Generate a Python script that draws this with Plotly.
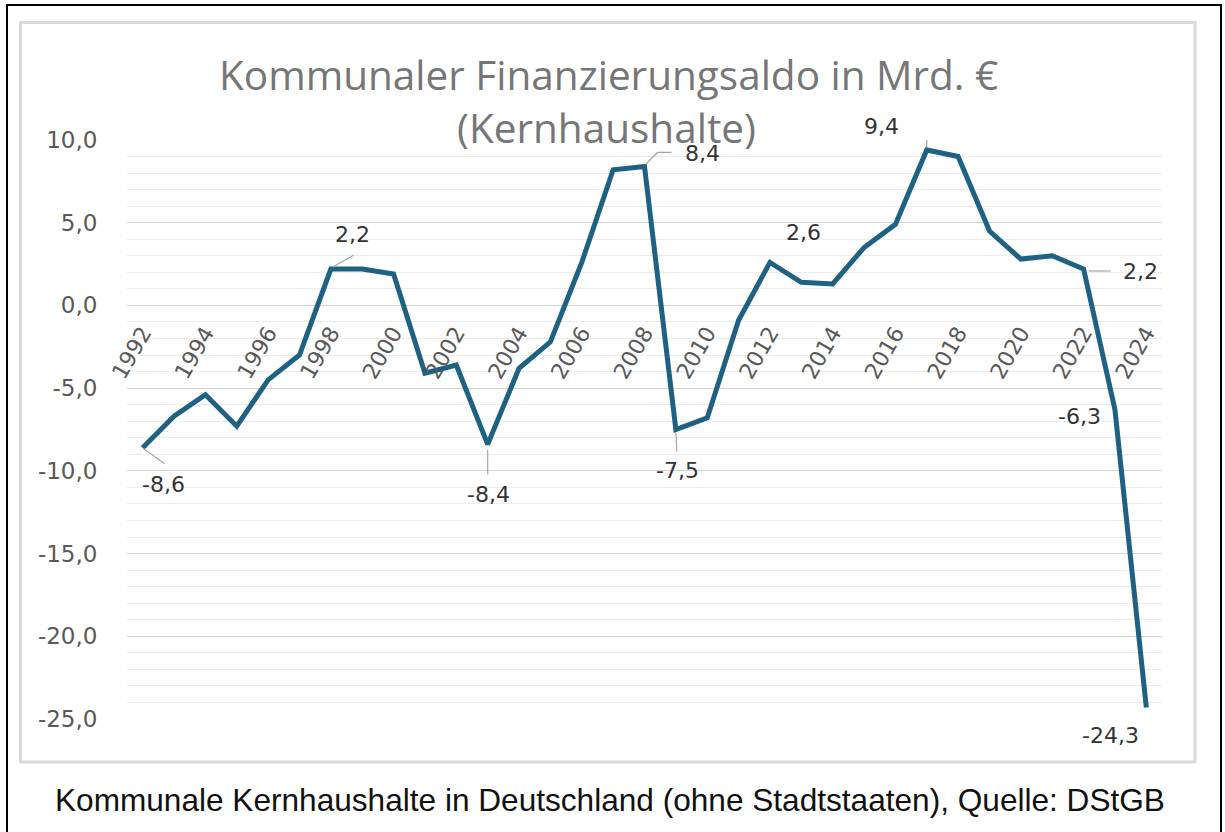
import plotly.graph_objects as go

# ---- data ----
years = list(range(1992, 2025))
saldo = [-8.6, -6.7, -5.4, -7.3, -4.5, -3.0, 2.2, 2.2, 1.9, -4.1, -3.6, -8.4,
         -3.8, -2.2, 2.6, 8.2, 8.4, -7.5, -6.8, -0.9, 2.6, 1.4, 1.3, 3.5,
         4.9, 9.4, 9.0, 4.5, 2.8, 3.0, 2.2, -6.3, -24.3]
y_tickvals = [10, 5, 0, -5, -10, -15, -20, -25]
y_ticktext = ["10,0", "5,0", "0,0", "-5,0", "-10,0", "-15,0", "-20,0", "-25,0"]
x_tickvals = list(range(1992, 2025, 2))
x_ticktext = [str(v) for v in x_tickvals]
labelled_years = [1992, 1998, 2003, 2008, 2009, 2012, 2017, 2022, 2023, 2024]
title_lines = ["Kommunaler Finanzierungsaldo in Mrd. €", "(Kernhaushalte)"]
caption = "Kommunale Kernhaushalte in Deutschland (ohne Stadtstaaten), Quelle: DStGB"

# label placement (pixel offsets right/down) and leader paths (pixels, y up)
label_offsets = {1992: (21, 37), 1998: (22, -35), 2003: (1, 50), 2008: (58, -13),
                 2009: (2, 41), 2012: (34, -30), 2017: (-45, -23), 2022: (57, 2),
                 2023: (-35, 7), 2024: (-36, 28)}
leaders = {1992: "M 1 -1 L 22 -16", 1998: "M 2 2 L 23 14", 2003: "M 0 -5 L 0 -30",
           2008: "M 1 2 L 13 14 L 27 14", 2009: "M 0 -3 L 1 -22",
           2017: "M 0 3 L 0 24 L -16 24", 2022: "M 5 -2 L 27 -2"}

fmt = lambda v: f"{v:.1f}".replace(".", ",")

L, R, T, B = 127, 1162, 140, 719
W, H = 1225, 832

def px(x):
    return (x - L) / (R - L)

def py(y):
    return (B - y) / (B - T)

fig = go.Figure()
fig.add_trace(go.Scatter(x=years, y=saldo, mode="lines",
                         line=dict(color="#1e6183", width=5), hoverinfo="skip"))

annotations = []
for yr in labelled_years:
    v = saldo[years.index(yr)]
    dx, dy = label_offsets[yr]
    annotations.append(dict(x=yr, y=v, xref="x", yref="y", text=fmt(v),
                            showarrow=False, xshift=dx, yshift=-dy,
                            xanchor="center", yanchor="middle", borderpad=0,
                            font=dict(family="DejaVu Sans", size=22, color="#333333")))

shapes = []
for yr, path in leaders.items():
    v = saldo[years.index(yr)]
    shapes.append(dict(type="path", xref="x", yref="y", xsizemode="pixel",
                       ysizemode="pixel", xanchor=yr, yanchor=v, path=path,
                       line=dict(color="#a6a6a6", width=1.2), layer="above"))

# title lines
annotations.append(dict(x=px(608), y=py(75), xref="paper", yref="paper",
                        text=title_lines[0], showarrow=False,
                        xanchor="center", yanchor="middle", borderpad=0,
                        font=dict(family="Open Sans", size=40.5, color="#767676")))
annotations.append(dict(x=px(606), y=py(127), xref="paper", yref="paper",
                        text=title_lines[1], showarrow=False,
                        xanchor="center", yanchor="middle", borderpad=0,
                        font=dict(family="Open Sans", size=40.5, color="#767676")))
# caption
annotations.append(dict(x=px(610), y=py(800), xref="paper", yref="paper",
                        text=caption, showarrow=False,
                        xanchor="center", yanchor="middle",
                        font=dict(family="Liberation Sans", size=31.6, color="#111111")))

# frames
shapes.append(dict(type="rect", xref="paper", yref="paper",
                   x0=px(20.5), x1=px(1195), y0=py(762), y1=py(22.5),
                   line=dict(color="#d9d9d9", width=3), layer="below"))
shapes.append(dict(type="rect", xref="paper", yref="paper",
                   x0=px(7), x1=px(1221), y0=py(845), y1=py(5),
                   line=dict(color="#000000", width=2), layer="below"))

fig.update_layout(
    width=W, height=H,
    margin=dict(l=L, r=W - R, t=T, b=H - B, pad=0),
    paper_bgcolor="white", plot_bgcolor="white",
    showlegend=False, hovermode=False,
    annotations=annotations, shapes=shapes,
    xaxis=dict(range=[1991.5, 2024.5], tickvals=x_tickvals, ticktext=x_ticktext,
               tickangle=-60, anchor="free", position=25 / 35,
               showgrid=False, zeroline=False, showline=False,
               ticks="outside", ticklen=5, tickcolor="rgba(0,0,0,0)",
               tickfont=dict(family="DejaVu Sans", size=22, color="#595959")),
    yaxis=dict(range=[-25, 10], tickvals=y_tickvals, ticktext=y_ticktext,
               showgrid=True, gridcolor="#d4d4d4", gridwidth=1.3,
               zeroline=False, showline=False,
               ticks="outside", ticklen=24, tickcolor="rgba(0,0,0,0)",
               tickfont=dict(family="DejaVu Sans", size=23, color="#595959"),
               minor=dict(dtick=1, tick0=0, showgrid=True, gridcolor="#ececec",
                          gridwidth=1)),
)

fig.write_html("out.html", config={"displayModeBar": False},
               post_script="document.body.style.margin='0';"
                           "document.body.style.overflow='hidden';")
